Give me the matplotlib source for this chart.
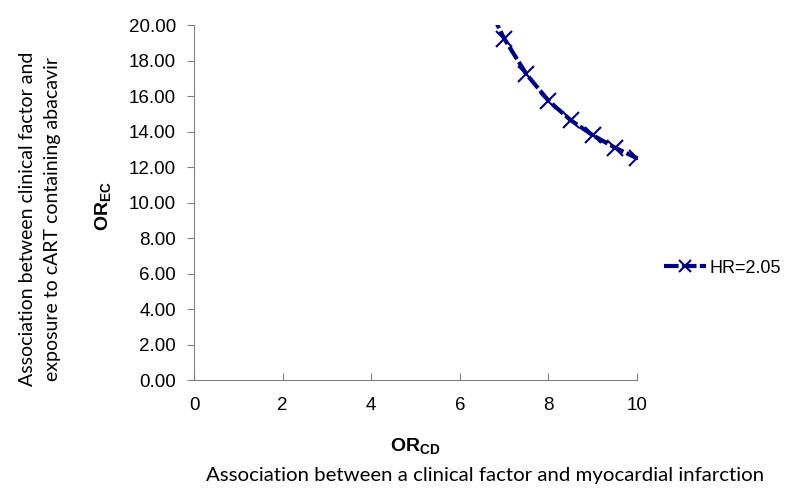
import numpy as np
import matplotlib
matplotlib.use("Agg")
from matplotlib import pyplot as plt

plt.rcParams['font.family'] = ['Liberation Sans', 'DejaVu Sans']
plt.rcParams['mathtext.fontset'] = 'custom'
plt.rcParams['mathtext.rm'] = 'Liberation Sans'
plt.rcParams['mathtext.bf'] = 'Liberation Sans:bold'

# OR_CD vs OR_EC for HR=2.05 (first point lies above the plotted range)
or_cd = [6.5, 7.0, 7.5, 8.0, 8.5, 9.0, 9.5, 10.0]
or_ec = [21.8, 19.25, 17.25, 15.75, 14.65, 13.8, 13.1, 12.5]
series_label = 'HR=2.05'

x_ticks = [0, 2, 4, 6, 8, 10]
y_ticks = [0, 2, 4, 6, 8, 10, 12, 14, 16, 18, 20]

fig = plt.figure(figsize=(8, 5.04), dpi=100)
ax = fig.add_axes([0.2425, 0.246, 0.5538, 0.704])

ax.plot(or_cd, or_ec, color='#000080', linestyle=(0, (3.5, 0.8)), linewidth=3,
        marker='x', markersize=11, markeredgewidth=1.5, label=series_label)

ax.set_xlim(0, 10)
ax.set_ylim(0, 20)
ax.set_xticks(x_ticks)
ax.set_yticks(y_ticks)
ax.set_yticklabels(['%.2f' % v for v in y_ticks])
ax.tick_params(axis='x', direction='in', length=5, labelsize=13.5, pad=12, color='#808080')
ax.tick_params(axis='y', direction='out', length=5, labelsize=13.5, pad=8, color='#808080')
for s in ['top', 'right']:
    ax.spines[s].set_visible(False)
for s in ['left', 'bottom']:
    ax.spines[s].set_color('#808080')

ax.set_xlabel(r'$\mathbf{OR_{CD}}$', fontsize=14)
ax.set_ylabel(r'$\mathbf{OR_{EC}}$', fontsize=14)
ax.xaxis.set_label_coords(0.5, -0.158)
ax.yaxis.set_label_coords(-0.183, 0.49)

fig.text(0.05, 0.565, 'Association between clinical factor and\nexposure to cART containing abacavir',
         rotation=90, ha='center', va='center', fontsize=14, family='Lato', linespacing=1.55)
fig.text(0.606, 0.057, 'Association between a clinical factor and myocardial infarction',
         ha='center', va='center', fontsize=14.7, family='Lato')

fig.legend(loc='center left', bbox_to_anchor=(0.81, 0.468), frameon=False,
           fontsize=13, handlelength=2.3, handletextpad=0.2, markerscale=0.8)

fig.savefig('out.png', dpi=100)
